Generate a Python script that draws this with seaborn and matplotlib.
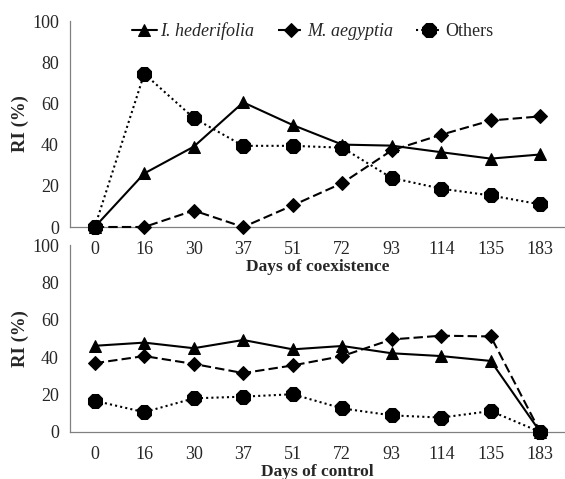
import matplotlib
matplotlib.use("Agg")
import matplotlib.pyplot as plt
import seaborn as sns
import pandas as pd
import numpy as np

days = ["0", "16", "30", "37", "51", "72", "93", "114", "135", "183"]

coex_ihed = [0, 26, 39, 60.5, 49.5, 40, 39.5, 36.3, 33.2, 35.2]
coex_maeg = [0, 0, 8, 0, 10.5, 21.3, 37.2, 44.8, 51.7, 53.7]
coex_oth = [0, 74.4, 52.9, 39.4, 39.4, 38.5, 23.8, 18.6, 15.3, 11]

ctrl_ihed = [46.1, 47.8, 44.8, 49.2, 44.2, 46, 42.1, 40.6, 38, 0]
ctrl_maeg = [36.8, 40.6, 36.4, 31.5, 35.6, 40.6, 49.5, 51.5, 51.1, 0]
ctrl_oth = [16.7, 10.6, 18, 18.9, 20.2, 12.6, 8.9, 7.7, 11.2, 0]

series = ["I. hederifolia", "M. aegyptia", "Others"]

sns.set_style("white")
plt.rcParams["font.family"] = ["Liberation Serif", "DejaVu Serif"]

fig = plt.figure(figsize=(5.65, 4.79), dpi=100)
ax1 = fig.add_axes([70/565, 1-227/479, 495/565, 206/479])
ax2 = fig.add_axes([70/565, 1-432/479, 495/565, 187/479])

styles = {
    "I. hederifolia": dict(marker="^", ms=9, ls="-"),
    "M. aegyptia": dict(marker="D", ms=7, ls=(0, (4.5, 2))),
    "Others": dict(marker="8", ms=11, ls=(0, (1, 1.5))),
}

def draw(ax, vals, xlabel):
    x = np.arange(len(days))
    for name, v in zip(series, vals):
        df = pd.DataFrame({"x": x, "y": v})
        st = styles[name]
        sns.lineplot(data=df, x="x", y="y", ax=ax, color="black", lw=1.5,
                     marker=st["marker"], markersize=st["ms"], linestyle=st["ls"],
                     markeredgecolor="black", markerfacecolor="black",
                     label=name, clip_on=False, zorder=3)
    ax.set_xlim(-0.5, len(days) - 0.5)
    ax.set_ylim(0, 100)
    ax.set_yticks([0, 20, 40, 60, 80, 100])
    ax.set_xticks(x)
    ax.set_xticklabels(days)
    ax.set_xticks(np.arange(len(days) + 1) - 0.5, minor=True)
    ax.tick_params(axis="x", which="major", length=0, pad=10, labelsize=13)
    ax.tick_params(axis="x", which="minor", length=4, width=0.8, color="#808080", direction="out")
    ax.tick_params(axis="y", length=4, width=0.8, color="#808080", direction="out", labelsize=13, pad=4)
    for s in ["top", "right"]:
        ax.spines[s].set_visible(False)
    for s in ["left", "bottom"]:
        ax.spines[s].set_color("#808080")
        ax.spines[s].set_linewidth(0.9)
    ax.set_ylabel("RI (%)", fontsize=13.5, fontweight="bold")
    ax.yaxis.set_label_coords(-0.083, 0.5)
    ax.set_xlabel(xlabel, fontsize=12.5, fontweight="bold", labelpad=1)
    ax.patch.set_alpha(0)

draw(ax1, [coex_ihed, coex_maeg, coex_oth], "Days of coexistence")
draw(ax2, [ctrl_ihed, ctrl_maeg, ctrl_oth], "Days of control")

ax2.get_legend().remove()
leg = ax1.legend(loc="center", bbox_to_anchor=(0.49, 0.951), ncol=3, frameon=False,
                 fontsize=13, handlelength=1.4, columnspacing=1.3, handletextpad=0.2,
                 borderaxespad=0)
for t in leg.get_texts()[:2]:
    t.set_fontstyle("italic")

fig.savefig("out.png", dpi=100)
